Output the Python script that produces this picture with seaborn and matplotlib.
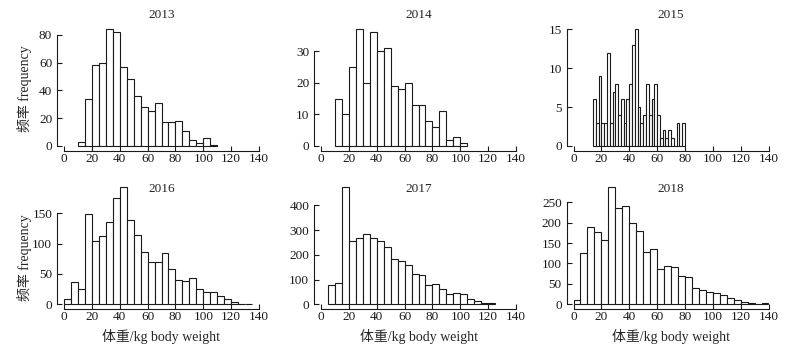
import numpy as np
import pandas as pd
import seaborn as sns
import matplotlib
matplotlib.use("Agg")
import matplotlib.pyplot as plt

# histogram counts, bins of fixed width starting at bin_start
years = ["2013", "2014", "2015", "2016", "2017", "2018"]

counts_2013 = [3, 34, 58, 60, 84, 82, 57, 48, 36, 28, 25, 31, 17, 17, 18, 11, 4, 2, 6, 1]
counts_2014 = [15, 10, 25, 37, 20, 36, 30, 31, 19, 18, 20, 13, 13, 8, 6, 11, 2, 3, 1]
counts_2015 = [6, 3, 9, 3, 3, 12, 3, 7, 8, 4, 6, 3, 6, 8, 13, 15,
               5, 3, 4, 8, 4, 6, 8, 4, 1, 2, 1, 2, 1, 0, 3, 0, 3]
counts_2016 = [8, 36, 25, 149, 105, 113, 136, 175, 194, 139, 115, 87, 70, 70,
               84, 58, 40, 38, 43, 25, 20, 20, 13, 8, 3, 1, 1]
counts_2017 = [77, 85, 475, 255, 267, 283, 269, 256, 230, 182, 174, 160, 124,
               117, 77, 81, 61, 40, 47, 40, 22, 12, 7, 7]
counts_2018 = [11, 125, 190, 178, 157, 288, 236, 241, 199, 179, 127, 135, 87, 95,
               92, 69, 67, 39, 34, 29, 28, 22, 15, 10, 5, 2, 1, 4]

bin_start = [10, 10, 14, 0, 5, 0]
bin_width = [5, 5, 2, 5, 5, 5]
y_ticks = [[0, 20, 40, 60, 80], [0, 10, 20, 30], [0, 5, 10, 15],
           [0, 50, 100, 150], [0, 100, 200, 300, 400], [0, 50, 100, 150, 200, 250]]
x_ticks = [0, 20, 40, 60, 80, 100, 120, 140]

all_counts = [counts_2013, counts_2014, counts_2015, counts_2016, counts_2017, counts_2018]

sns.set_style("ticks")
plt.rcParams["font.family"] = ["Liberation Serif", "Noto Sans CJK SC"]
plt.rcParams["xtick.direction"] = "in"
plt.rcParams["ytick.direction"] = "in"

W, H = 810, 357
fig = plt.figure(figsize=(W / 100, H / 100), dpi=100)

col_left = [64, 321, 573.5]       # pixel x of data 0
col_w = 195                       # pixels for 0..140
row_base = [146, 304.3]           # pixel y of count 0
row_top = [29.3, 186.7]           # pixel y of tallest bar
title_y = [1.1225, 0.978]

axes = []
for i, year in enumerate(years):
    r, c = divmod(i, 3)
    left = col_left[c] / W
    bottom = 1 - row_base[r] / H
    height = (row_base[r] - row_top[r]) / H
    ax = fig.add_axes([left, bottom, col_w / W, height])

    counts = all_counts[i]
    lo = bin_start[i]
    hi = bin_start[i] + bin_width[i] * len(counts)
    centers = lo + bin_width[i] * (np.arange(len(counts)) + 0.5)
    df = pd.DataFrame({"weight": centers, "n": counts})
    sns.histplot(data=df, x="weight", weights="n", binwidth=bin_width[i],
                 binrange=(lo, hi), ax=ax, color="white",
                 edgecolor="#1a1a1a", linewidth=0.8, alpha=1)
    for p in ax.patches:
        p.set_clip_on(False)

    ax.set_xlim(0, 140)
    ax.set_ylim(0, max(counts))
    ax.set_xticks(x_ticks)
    ax.set_yticks(y_ticks[i])
    ax.tick_params(labelsize=9.5, length=3.5, width=0.8, colors="#1a1a1a")
    ax.tick_params(axis="x", pad=1.5)
    ax.tick_params(axis="y", pad=3.5)
    ax.set_xlabel("")
    ax.set_ylabel("")
    for s in ax.spines.values():
        s.set_linewidth(0.8)
        s.set_color("#1a1a1a")
    sns.despine(ax=ax, offset={"left": 5, "bottom": 3.5}, trim=True)
    ax.text(0.5, title_y[r], year, transform=ax.transAxes, ha="center",
            va="center", fontsize=9.5)
    axes.append(ax)

# y labels on the left column
fig.text(25 / W, 1 - 88.3 / H, "频率 frequency", rotation=90, ha="center",
         va="center", fontsize=10)
fig.text(25 / W, 1 - 258 / H, "频率 frequency", rotation=90, ha="center",
         va="center", fontsize=10)

# x labels under the bottom row
for c in range(3):
    fig.text((col_left[c] + col_w / 2) / W, 1 - 336.7 / H, "体重/kg body weight",
             ha="center", va="center", fontsize=10)

fig.savefig("out.png", dpi=100)
